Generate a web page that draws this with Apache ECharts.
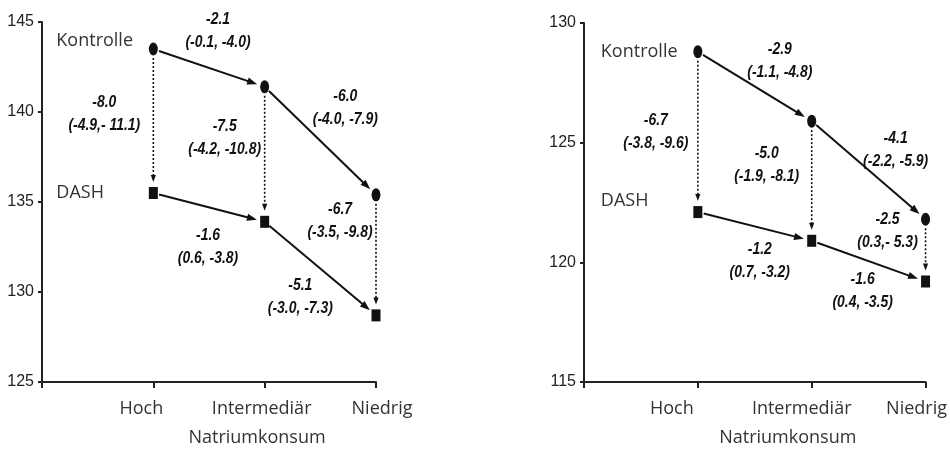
<!DOCTYPE html>
<html><head><meta charset="utf-8">
<script src="https://cdn.jsdelivr.net/npm/echarts@6/dist/echarts.min.js"></script>
<style>html,body{margin:0;padding:0;background:#fff}#c{width:950px;height:452px}</style>
</head><body><div id="c"></div>
<script>
// ---- data ----
const categories = ['Hoch', 'Intermediär', 'Niedrig'];
const axisTitle = 'Natriumkonsum';
const groupNames = ['Kontrolle', 'DASH'];
const leftKontrolle = [143.5, 141.4, 135.4];
const leftDash = [135.5, 133.9, 128.7];
const rightKontrolle = [128.8, 125.9, 121.8];
const rightDash = [122.1, 120.9, 119.2];
const leftTicks = [125, 145, 5];   // min, max, step
const rightTicks = [115, 130, 5];
// change estimates with CI: [Kontrolle steps], [DASH steps], [DASH - Kontrolle per category]
const leftKontrolleChange = [['-2.1', '(-0.1, -4.0)'], ['-6.0', '(-4.0, -7.9)']];
const leftDashChange = [['-1.6', '(0.6, -3.8)'], ['-5.1', '(-3.0, -7.3)']];
const leftDiff = [['-8.0', '(-4.9,- 11.1)'], ['-7.5', '(-4.2, -10.8)'], ['-6.7', '(-3.5, -9.8)']];
const rightKontrolleChange = [['-2.9', '(-1.1, -4.8)'], ['-4.1', '(-2.2, -5.9)']];
const rightDashChange = [['-1.2', '(0.7, -3.2)'], ['-1.6', '(0.4, -3.5)']];
const rightDiff = [['-6.7', '(-3.8, -9.6)'], ['-5.0', '(-1.9, -8.1)'], ['-2.5', '(0.3,- 5.3)']];

// ---- layout (pixel offsets of annotation blocks from segment midpoints) ----
const layout = [
  { grid: { left: 42, top: 22, width: 334, height: 360 }, namePad: 96, labelShift: [-12, -3, 6],
    kOff: [[9, -37], [25, -33]], dOff: [[-1, 39], [-20, 28]], vOff: [[-49, -7], [-40, -16], [-36, -34]],
    kLab: [0, -8], dLab: [0, 0] },
  { grid: { left: 584, top: 23, width: 342, height: 359 }, namePad: 66, labelShift: [-26, -10, -9],
    kOff: [[25, -26], [27, -20]], dOff: [[5, 34], [-6, 30]], vOff: [[-42, 0], [-45, -16], [-38, -20]],
    kLab: [0, 0], dLab: [0, -11] }
];

const panels = [
  { k: leftKontrolle, d: leftDash, ticks: leftTicks, kc: leftKontrolleChange, dc: leftDashChange, diff: leftDiff },
  { k: rightKontrolle, d: rightDash, ticks: rightTicks, kc: rightKontrolleChange, dc: rightDashChange, diff: rightDiff }
];

const INK = '#111';
const annFont = "'Liberation Sans', Arial, sans-serif";
const labFont = "'Open Sans', 'Noto Sans', sans-serif";
const ellipse = 'path://M0 7 A5 7 0 1 1 10 7 A5 7 0 1 1 0 7 Z';

const chart = echarts.init(document.getElementById('c'));
const grids = [], xAxes = [], yAxes = [], series = [];

panels.forEach((p, pi) => {
  const L = layout[pi];
  grids.push(L.grid);
  const rich = {};
  L.labelShift.forEach((s, i) => {
    rich['s' + i] = { fontSize: 18, fontFamily: labFont, color: '#333',
      padding: s < 0 ? [0, -2 * s, 0, 0] : [0, 0, 0, 2 * s] };
  });
  xAxes.push({
    gridIndex: pi, type: 'value', min: 0, max: categories.length, interval: 1,
    axisLine: { show: true, lineStyle: { color: '#222', width: 2 } },
    axisTick: { show: true, length: 6, lineStyle: { color: '#222', width: 2 } },
    splitLine: { show: false },
    axisLabel: { margin: 18, formatter: v => (v >= 1 && v <= categories.length) ? '{s' + (v - 1) + '|' + categories[v - 1] + '}' : '', rich },
    name: axisTitle, nameLocation: 'middle', nameGap: 47,
    nameTextStyle: { fontSize: 18, fontFamily: labFont, color: '#333', padding: [0, 0, 0, L.namePad] }
  });
  yAxes.push({
    gridIndex: pi, type: 'value', min: p.ticks[0], max: p.ticks[1], interval: p.ticks[2],
    axisLine: { show: true, lineStyle: { color: '#222', width: 2 } },
    axisTick: { show: true, length: 4, lineStyle: { color: '#222', width: 2 } },
    splitLine: { show: false },
    axisLabel: { margin: 8, fontSize: 16, fontFamily: annFont, color: '#222' }
  });

  // segments
  const segs = [];
  for (let i = 0; i < categories.length - 1; i++) {
    segs.push({ v: [i + 1, p.k[i], i + 2, p.k[i + 1]], dotted: false, t: p.kc[i], off: L.kOff[i] });
    segs.push({ v: [i + 1, p.d[i], i + 2, p.d[i + 1]], dotted: false, t: p.dc[i], off: L.dOff[i] });
  }
  for (let i = 0; i < categories.length; i++) {
    segs.push({ v: [i + 1, p.k[i], i + 1, p.d[i]], dotted: true, t: p.diff[i], off: L.vOff[i] });
  }

  series.push({
    type: 'custom', xAxisIndex: pi, yAxisIndex: pi, coordinateSystem: 'cartesian2d',
    clip: false, silent: true, z: 3,
    encode: { x: [0, 2], y: [1, 3] },
    data: segs.map(s => s.v),
    renderItem: (params, api) => {
      const s = segs[params.dataIndex];
      const a = api.coord([api.value(0), api.value(1)]);
      const b = api.coord([api.value(2), api.value(3)]);
      const dx = b[0] - a[0], dy = b[1] - a[1];
      const len = Math.sqrt(dx * dx + dy * dy);
      const ux = dx / len, uy = dy / len;
      const g1 = s.dotted ? 9 : 6, g2 = s.dotted ? 11 : 8;
      const sx = a[0] + ux * g1, sy = a[1] + uy * g1;
      const ex = b[0] - ux * g2, ey = b[1] - uy * g2;
      const ah = s.dotted ? 7 : 10, aw = s.dotted ? 2.6 : 3.6;
      const bx = ex - ux * ah, by = ey - uy * ah;
      const nx = -uy, ny = ux;
      const mx = (a[0] + b[0]) / 2 + s.off[0], my = (a[1] + b[1]) / 2 + s.off[1];
      return {
        type: 'group',
        children: [
          { type: 'line', shape: { x1: sx, y1: sy, x2: bx + ux * 2, y2: by + uy * 2 },
            style: { stroke: INK, lineWidth: s.dotted ? 1.6 : 2, lineDash: s.dotted ? [2, 2] : null } },
          { type: 'polygon', shape: { points: [[ex, ey], [bx + nx * aw, by + ny * aw], [bx - nx * aw, by - ny * aw]] },
            style: { fill: INK } },
          { type: 'text', x: mx, y: my, scaleX: 0.82,
            style: { text: s.t[0] + '\n' + s.t[1], fill: INK, fontSize: 17, fontFamily: annFont,
              fontWeight: 'bold', fontStyle: 'italic', align: 'center', verticalAlign: 'middle', lineHeight: 23 } }
        ]
      };
    }
  });

  // markers
  [[p.k, ellipse, [9, 13], L.kLab], [p.d, 'rect', [9, 12], L.dLab]].forEach((m, gi) => {
    series.push({
      type: 'scatter', name: groupNames[gi], xAxisIndex: pi, yAxisIndex: pi, z: 5,
      symbol: m[1], symbolSize: m[2], itemStyle: { color: INK, opacity: 1 },
      data: m[0].map((v, i) => i === 0 ? {
        value: [i + 1, v],
        label: { show: true, position: 'inside', align: 'left', verticalAlign: 'middle',
          offset: [-97 + m[3][0], m[3][1]], formatter: groupNames[gi],
          fontSize: 18, fontFamily: labFont, color: '#333' }
      } : [i + 1, v]),
      silent: true
    });
  });
});

chart.setOption({
  animation: false, backgroundColor: '#fff',
  grid: grids, xAxis: xAxes, yAxis: yAxes, series
});
</script></body></html>
